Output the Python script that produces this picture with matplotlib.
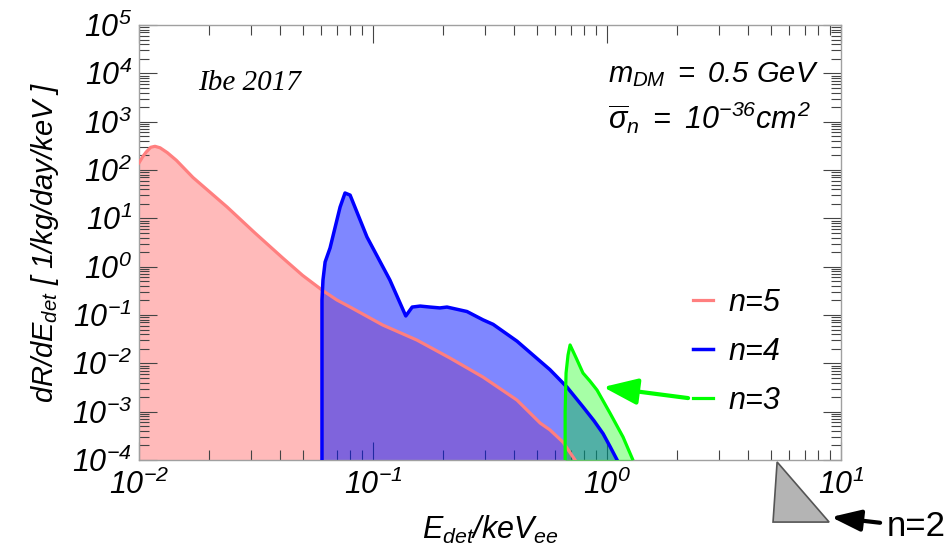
import math
import matplotlib.pyplot as plt
from matplotlib.ticker import LogLocator, NullFormatter, FuncFormatter

plt.rcParams['font.family'] = ['Liberation Sans', 'DejaVu Sans']
plt.rcParams['mathtext.fontset'] = 'custom'
plt.rcParams['mathtext.rm'] = 'Liberation Sans:italic'
plt.rcParams['mathtext.it'] = 'Liberation Sans:italic'
plt.rcParams['mathtext.sf'] = 'Liberation Sans:italic'
plt.rcParams['mathtext.default'] = 'it'

# spectra (E in keVee, rate in 1/kg/day/keV)
E_n5 = [0.0100, 0.01035, 0.01072, 0.01122, 0.0117, 0.0123, 0.0132, 0.01445, 0.0170, 0.0238,
        0.0313, 0.0412, 0.0500, 0.0605, 0.0700, 0.0798, 0.110, 0.154, 0.213, 0.295,
        0.412, 0.518, 0.570, 0.648, 0.730, 0.767]
R_n5 = [141, 186, 234, 295, 309, 288, 229, 158, 70, 17.1,
        4.97, 1.50, 0.66, 0.329, 0.205, 0.146, 0.062, 0.0303, 0.0129, 5.2e-3,
        1.74e-3, 5.8e-4, 4.2e-4, 2.35e-4, 1.0e-4, 6.3e-5]

E_n4 = [0.0605, 0.0605, 0.0611, 0.0624, 0.0655, 0.0723, 0.0759, 0.0798, 0.0942, 0.118,
        0.138, 0.147, 0.159, 0.175, 0.193, 0.207, 0.252, 0.295, 0.326, 0.412,
        0.483, 0.570, 0.675, 0.789, 0.879, 0.962, 1.03, 1.104, 1.159]
R_n4 = [1e-6, 0.204, 0.53, 1.25, 2.43, 17.1, 33.4, 30.2, 4.11, 0.53,
        0.0955, 0.146, 0.153, 0.146, 0.140, 0.146, 0.118, 0.0794, 0.0640, 0.0288,
        0.0148, 7.4e-3, 3.2e-3, 1.26e-3, 6.5e-4, 3.5e-4, 1.9e-4, 1.0e-4, 3.2e-5]

E_n3 = [0.662, 0.662, 0.668, 0.681, 0.695, 0.738, 0.789, 0.845, 0.906, 1.03, 1.17, 1.29, 1.33]
R_n3 = [1e-6, 1e-3, 6.3e-3, 0.0148, 0.024, 0.0129, 6.3e-3, 4.3e-3, 2.8e-3, 9.3e-4, 3.0e-4, 1.0e-4, 3.2e-5]

# n=2 spectrum sits below the plotted range (drawn outside the frame)
E_n2 = [5.33, 5.12, 8.89]
R_n2 = [9.1e-5, 5.2e-6, 5.2e-6]

labels = ['n=5', 'n=4', 'n=3']

fig = plt.figure(figsize=(9.51, 5.49), dpi=100)
ax = fig.add_axes([0.1462, 0.1621, 0.7382, 0.7924])
ax.set_xscale('log')
ax.set_yscale('log')
ax.set_xlim(1e-2, 1e1)
ax.set_ylim(1e-4, 1e5)

floor = 1e-7
ax.fill_between(E_n5, R_n5, floor, color='#ffbaba', lw=0, zorder=1)
ax.fill_between(E_n4, R_n4, floor, color='#0010ff', alpha=0.5, lw=0, zorder=2)
ax.fill_between(E_n3, R_n3, floor, color='#00ff00', alpha=0.35, lw=0, zorder=3)

l5, = ax.plot(E_n5, R_n5, color='#ff7f7f', lw=2.3, zorder=4)
l4, = ax.plot(E_n4, R_n4, color='#0000ff', lw=2.5, zorder=5)
l3, = ax.plot(E_n3, R_n3, color='#00ff00', lw=2.3, zorder=6)

ax.fill(E_n2, R_n2, facecolor='#b4b4b4', edgecolor='#555555', lw=1.2, clip_on=False, zorder=7)

# ticks / frame
pow_fmt = FuncFormatter(lambda v, pos: r'$10^{%d}$' % round(math.log10(v)))
ax.xaxis.set_major_locator(LogLocator(base=10, numticks=20))
ax.yaxis.set_major_locator(LogLocator(base=10, numticks=20))
ax.xaxis.set_minor_locator(LogLocator(base=10, subs=range(2, 10), numticks=20))
ax.yaxis.set_minor_locator(LogLocator(base=10, subs=range(2, 10), numticks=20))
ax.xaxis.set_major_formatter(pow_fmt)
ax.yaxis.set_major_formatter(pow_fmt)
ax.xaxis.set_minor_formatter(NullFormatter())
ax.yaxis.set_minor_formatter(NullFormatter())
ax.tick_params(which='both', direction='in', top=True, right=True, color='#444444', width=0.8)
ax.tick_params(which='major', length=13, labelsize=22)
ax.tick_params(which='minor', length=7.5)
ax.tick_params(axis='y', which='major', pad=5)
ax.tick_params(axis='x', which='major', pad=7)
for s in ax.spines.values():
    s.set_color('#a0a0a0')
    s.set_linewidth(1.0)

ax.set_xlabel(r'$E_{det}/keV_{ee}$', fontsize=22, labelpad=9)
ax.set_ylabel(r'$dR/dE_{det}\ [\ 1/kg/day/keV\ ]$', fontsize=21, labelpad=8)

ax.text(0.084, 0.867, 'Ibe 2017', transform=ax.transAxes, family='Liberation Serif',
        style='italic', fontsize=21, ha='left', va='center')
ax.text(0.668, 0.885, r'$m_{DM}\ =\ 0.5\ GeV$', transform=ax.transAxes,
        fontsize=21, ha='left', va='center')
ax.text(0.668, 0.786, r'$\overline{\sigma}_n\ =\ 10^{-36}cm^2$', transform=ax.transAxes,
        fontsize=22, ha='left', va='center')

ax.legend([l5, l4, l3], labels, loc='upper left', bbox_to_anchor=(0.789, 0.395),
          frameon=False, handlelength=0.65, handletextpad=0.5, labelspacing=0.62,
          borderpad=0, borderaxespad=0, prop={'style': 'italic', 'size': 22})

ax.annotate('', xy=(0.962, 3.23e-3), xytext=(2.22, 1.91e-3),
            arrowprops=dict(arrowstyle='-|>,head_length=2.1,head_width=0.8',
                            color='#00ff00', lw=3, shrinkA=0, shrinkB=0,
                            mutation_scale=10), zorder=8)

ax.annotate('n=2', xy=(9.06, 6.6e-6), xytext=(887, 22), textcoords='figure pixels',
            fontsize=25, ha='left', va='center', annotation_clip=False,
            arrowprops=dict(arrowstyle='-|>,head_length=1.8,head_width=0.65',
                            color='black', lw=3, shrinkA=3, shrinkB=0,
                            mutation_scale=10))

fig.savefig('out.png', dpi=100)
